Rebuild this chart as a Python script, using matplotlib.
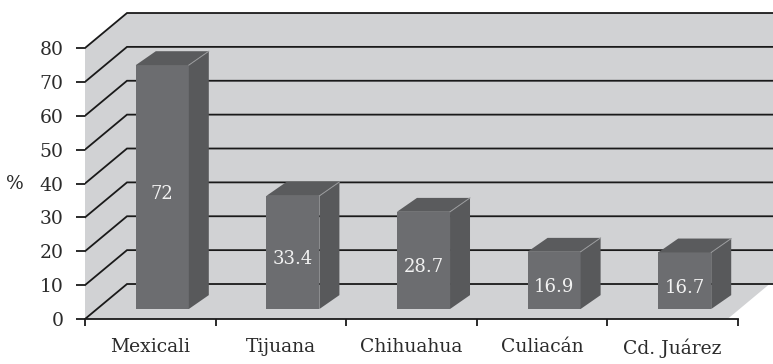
import matplotlib
matplotlib.use("Agg")
import matplotlib.pyplot as plt
import numpy as np

# Share of respondents by city (%)
cities = ["Mexicali", "Tijuana", "Chihuahua", "Culiacán", "Cd. Juárez"]
values = [72, 33.4, 28.7, 16.9, 16.7]
y_ticks = [0, 10, 20, 30, 40, 50, 60, 70, 80]

# Oblique "3D" geometry, in data units (categories on x, percent on y)
DX, DY = 0.3216, 10.33          # depth of the back wall
FX, FY = 0.092, 2.95            # bars sit a bit behind the front edge
BDX, BDY = 0.153, 4.1           # depth of each bar
BAR_W = 0.406
X_END = 4.92                    # where the floor's front edge stops
XMAX, YMAX = 5.268, 94.17

WALL = "#d1d2d4"
FRONT = "#6c6d70"
SIDE = "#58595b"
TOP = "#5a5b5d"
INK = "#2b2b2b"

plt.rcParams["font.family"] = ["DejaVu Serif"]

fig = plt.figure(figsize=(7.73, 3.64), dpi=100)
ax = fig.add_axes([85 / 773, 45 / 364, 688 / 773, 319 / 364])
ax.set_xlim(0, XMAX)
ax.set_ylim(0, YMAX)

# walls and floor
wall = [(0, 0), (X_END, 0), (X_END + DX, DY), (XMAX, DY),
        (XMAX, y_ticks[-1] + DY), (DX, y_ticks[-1] + DY), (0, y_ticks[-1])]
ax.fill(*zip(*wall), color=WALL, lw=0, zorder=0)

# gridlines wrap from the left wall onto the back wall
for v in y_ticks:
    ax.plot([0, DX, XMAX], [v, v + DY, v + DY], color="#1a1a1a", lw=1.3,
            zorder=1, solid_joinstyle="miter")

# bars: front faces through ax.bar, sides and tops as polygons
centers = np.arange(len(cities)) + 0.5
ax.bar(centers + FX, values, width=BAR_W, bottom=FY, color=FRONT,
       edgecolor="none", zorder=3)
for c, v in zip(centers, values):
    x0 = c + FX - BAR_W / 2
    x1 = x0 + BAR_W
    y1 = FY + v
    side = [(x1, FY), (x1 + BDX, FY + BDY), (x1 + BDX, y1 + BDY), (x1, y1)]
    top = [(x0, y1), (x1, y1), (x1 + BDX, y1 + BDY), (x0 + BDX, y1 + BDY)]
    ax.fill(*zip(*side), color=SIDE, lw=0, zorder=3)
    ax.fill(*zip(*top), color=TOP, lw=0, zorder=3)
    ax.plot([x1, x1 + BDX], [y1, y1 + BDY], color="#9a9b9d", lw=0.7, zorder=4)
    ax.annotate(f"{v:g}", (c + FX, FY + v / 2), xytext=(0, -5),
                textcoords="offset points", ha="center", va="center",
                color="#f2f2f2", fontsize=13, zorder=5)

# axes
for s in ["top", "right", "left"]:
    ax.spines[s].set_visible(False)
ax.spines["bottom"].set_bounds(0, len(cities))
ax.spines["bottom"].set_color("#1a1a1a")
ax.spines["bottom"].set_linewidth(1.3)
ax.spines["bottom"].set_zorder(2)

ax.set_yticks(y_ticks)
ax.set_yticklabels([str(t) for t in y_ticks])
ax.tick_params(axis="y", length=6.5, width=1.3, color="#1a1a1a",
               labelsize=13.5, labelcolor=INK, pad=9)

ax.set_xticks(np.arange(len(cities) + 1))
ax.set_xticklabels([])
ax.set_xticks(centers, minor=True)
ax.set_xticklabels(cities, minor=True)
ax.tick_params(axis="x", which="major", length=5, width=1.3, color="#1a1a1a")
ax.tick_params(axis="x", which="minor", length=0, labelsize=13.5,
               labelcolor=INK, pad=14)

ax.set_ylabel("%", rotation=0, fontsize=13.5, color=INK, va="center", ha="center")
ax.yaxis.set_label_coords(-0.102, 40, transform=ax.get_yaxis_transform())

fig.savefig("out.png", dpi=100)
